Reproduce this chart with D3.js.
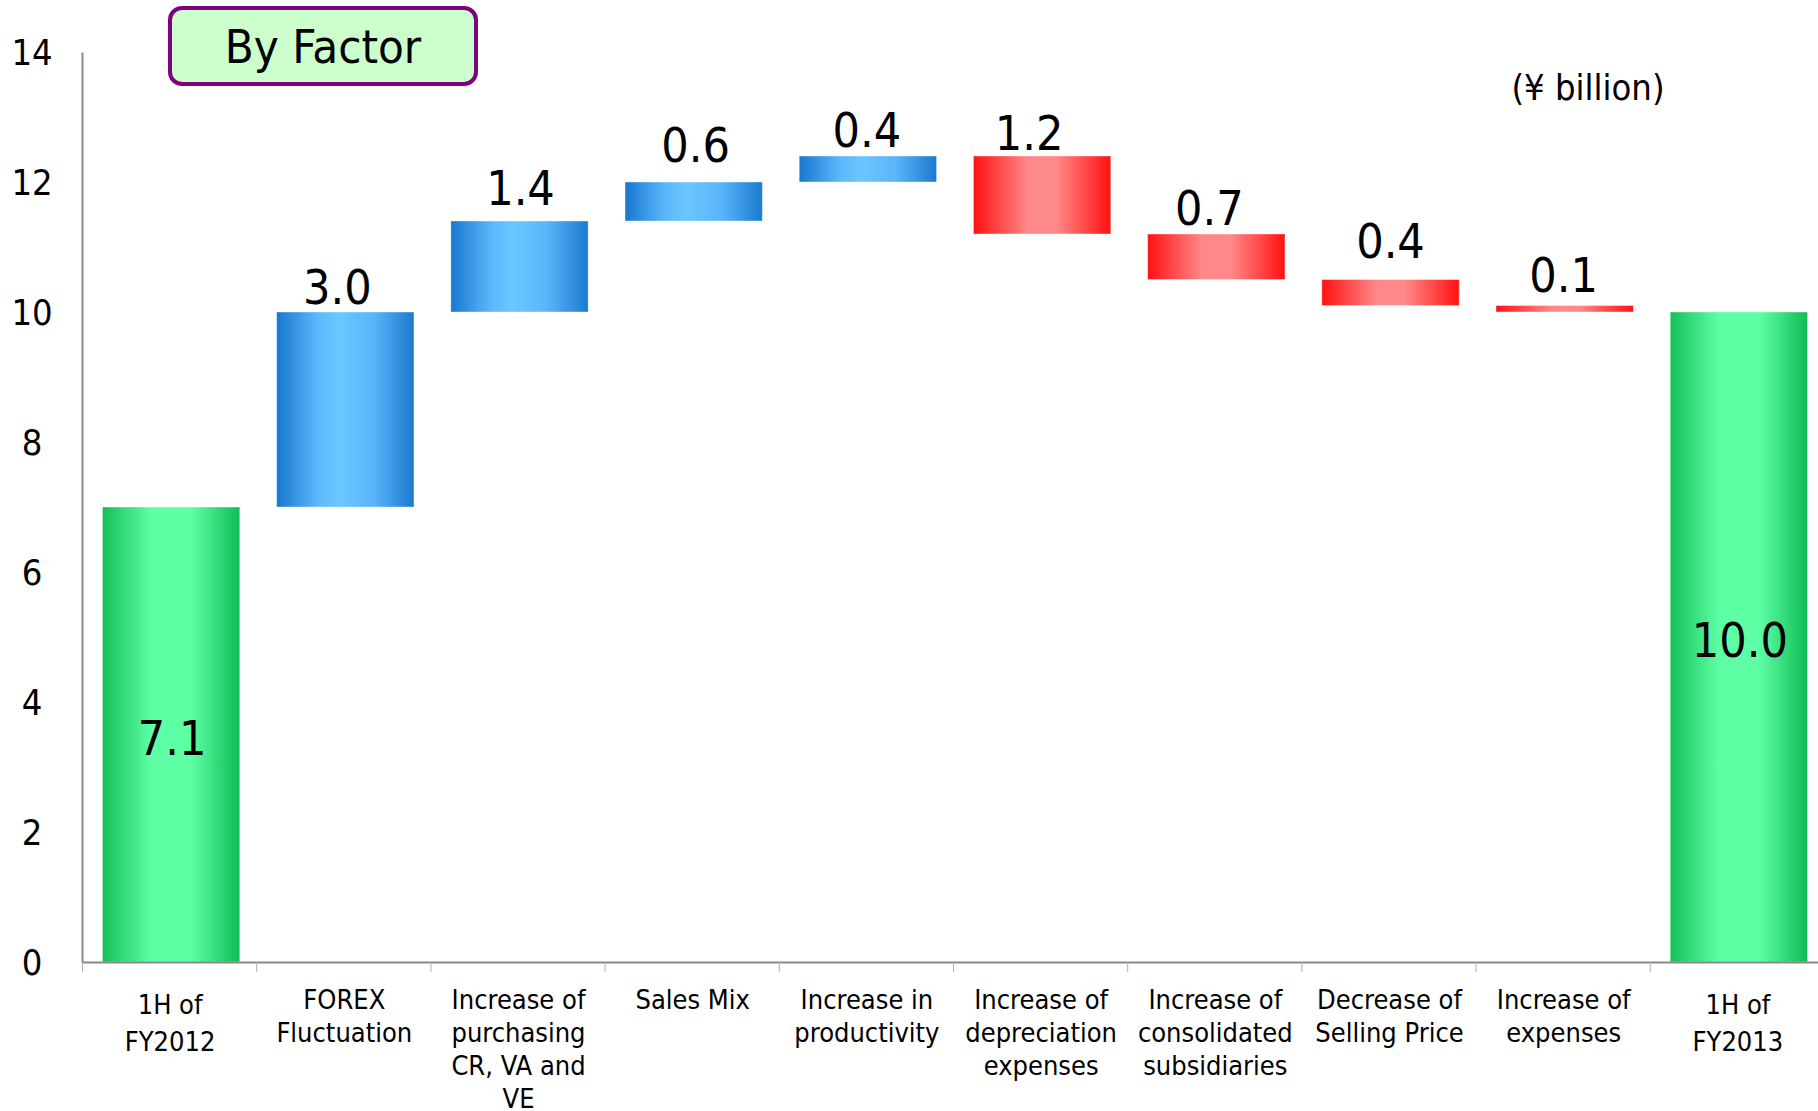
<!DOCTYPE html>
<html>
<head>
<meta charset="utf-8">
<script src="https://cdn.jsdelivr.net/npm/d3@7"></script>
<style>
  body { margin: 0; background: #fff; }
  text { font-family: "DejaVu Sans Condensed", "DejaVu Sans", sans-serif; font-stretch: condensed; }
</style>
</head>
<body>
<div id="canvas"></div>
<script>
// waterfall: operating income change by factor

const categories = [
    "1H of\nFY2012",
    "FOREX\nFluctuation",
    "Increase of\npurchasing\nCR, VA and\nVE",
    "Sales Mix",
    "Increase in\nproductivity",
    "Increase of\ndepreciation\nexpenses",
    "Increase of\nconsolidated\nsubsidiaries",
    "Decrease of\nSelling Price",
    "Increase of\nexpenses",
    "1H of\nFY2013"
];
// totals are absolute, others are deltas
const kinds = ["total", "up", "up", "up", "up", "down", "down", "down", "down", "total"];
const steps = [7.0, 3.0, 1.4, 0.6, 0.4, -1.2, -0.7, -0.4, -0.1, 10.0];
const valueLabels = ["7.1", "3.0", "1.4", "0.6", "0.4", "1.2", "0.7", "0.4", "0.1", "10.0"];
const yTicks = [0, 2, 4, 6, 8, 10, 12, 14];

// cumulative start / end for every bar
let running = 0;
const bars = categories.map((c, i) => {
    let lo, hi;
    if (kinds[i] === "total") {
        lo = 0; hi = steps[i]; running = steps[i];
    } else {
        const next = running + steps[i];
        lo = Math.min(running, next); hi = Math.max(running, next);
        running = next;
    }
    return {cat: c, kind: kinds[i], lo: lo, hi: hi, label: valueLabels[i], i: i};
});

const width = 1818;
const height = 1111;
const marginLeft = 82;
const plotRight = 1824;

// label nudges as placed in the original (gap above bar, horizontal shift)
const labelGap = [0, 8, 16, 20, 9, 6, 9, 22, 14, 0];
const labelShift = [0, -9, 0, 1, -2, -14, -8, -1, -2, 0];

const x = d3.scaleBand()
    .domain(categories)
    .range([marginLeft, plotRight])
    .paddingInner(0.2)
    .paddingOuter(0.1);

const xEdges = d3.scaleLinear()
    .domain([0, categories.length])
    .range([marginLeft, plotRight]);

const y = d3.scaleLinear()
    .domain([0, 14])
    .range([962, 52]);

const svg = d3.select("#canvas")
    .append("svg")
    .attr("width", width)
    .attr("height", height)
    .attr("viewBox", [0, 0, width, height]);

// gradients
const defs = svg.append("defs");
function grad(id, stops) {
    const g = defs.append("linearGradient").attr("id", id)
        .attr("x1", "0%").attr("x2", "100%").attr("y1", "0%").attr("y2", "0%");
    stops.forEach(s => g.append("stop").attr("offset", s[0]).attr("stop-color", s[1]));
}
grad("gUp", [["0%", "#1877cf"], ["30%", "#5cb8fc"], ["45%", "#6ac7ff"], ["70%", "#5ab5fa"], ["100%", "#1a7acf"]]);
grad("gDown", [["0%", "#ff1111"], ["40%", "#ff8989"], ["60%", "#ff8a8a"], ["100%", "#ff1111"]]);
grad("gTotal", [["0%", "#13bf58"], ["35%", "#5dfea4"], ["65%", "#5dfea4"], ["100%", "#0fbc55"]]);
const fillFor = {up: "url(#gUp)", down: "url(#gDown)", total: "url(#gTotal)"};

// bars sit a touch right of the band centre in the original
const barShift = 3;

svg.append("g")
    .selectAll("rect")
    .data(bars)
    .join("rect")
        .attr("x", d => x(d.cat) + barShift)
        .attr("width", x.bandwidth() - 2)
        .attr("y", d => y(d.hi))
        .attr("height", d => Math.max(1, y(d.lo) - y(d.hi)))
        .attr("fill", d => fillFor[d.kind])
        .attr("stroke", "#ffffff")
        .attr("stroke-opacity", 0.4)
        .attr("stroke-width", 1);

// value labels
svg.append("g")
    .selectAll("text")
    .data(bars)
    .join("text")
        .attr("x", d => x(d.cat) + x.bandwidth() / 2 + barShift + labelShift[d.i])
        .attr("y", d => d.kind === "total" ? (y(d.lo) + y(d.hi)) / 2 + 20 : y(d.hi) - labelGap[d.i])
        .attr("text-anchor", "middle")
        .attr("font-size", "48px")
        .attr("fill", "#000")
        .text(d => d.label);

// y axis
svg.append("g")
    .attr("transform", `translate(${marginLeft},0)`)
    .call(d3.axisLeft(y).tickValues(yTicks).tickSize(0).tickFormat(d3.format("d")))
    .call(g => g.select(".domain").attr("stroke", "#898989").attr("stroke-width", 2))
    .call(g => g.selectAll(".tick text")
        .attr("x", -50)
        .attr("dy", "0.36em")
        .attr("text-anchor", "middle")
        .attr("font-size", "36px")
        .attr("font-family", null)
        .attr("fill", "#000"));

// x axis (ticks on category boundaries)
svg.append("g")
    .attr("transform", `translate(0,${y(0)})`)
    .call(d3.axisBottom(xEdges).tickValues(d3.range(0, categories.length + 1)).tickSize(10).tickSizeOuter(0).tickFormat(""))
    .call(g => g.select(".domain").attr("stroke", "#898989").attr("stroke-width", 2))
    .call(g => g.selectAll(".tick line").attr("stroke", "#b0b0b0"));

// category labels
const catG = svg.append("g")
    .selectAll("text")
    .data(bars)
    .join("text")
        .attr("text-anchor", "middle")
        .attr("font-size", "27px")
        .attr("fill", "#000")
        .attr("transform", d => `translate(${x(d.cat) + x.bandwidth() / 2 + 1},${d.kind === "total" ? 1014 : 1009})`);
catG.selectAll("tspan")
    .data(d => d.cat.split("\n").map(t => ({t: t, total: d.kind === "total"})))
    .join("tspan")
        .attr("x", 0)
        .attr("y", (d, i) => i * (d.total ? 37 : 33))
        .text(d => d.t);

// unit
svg.append("text")
    .attr("x", 1588)
    .attr("y", 100)
    .attr("text-anchor", "middle")
    .attr("font-size", "36px")
    .text("(¥ billion)");

// title box
svg.append("rect")
    .attr("x", 170).attr("y", 8)
    .attr("width", 306).attr("height", 76)
    .attr("rx", 12)
    .attr("fill", "#ccffcc")
    .attr("stroke", "#800080")
    .attr("stroke-width", 4);
svg.append("text")
    .attr("x", 323)
    .attr("y", 63)
    .attr("text-anchor", "middle")
    .attr("font-size", "47px")
    .text("By Factor");
</script>
</body>
</html>
